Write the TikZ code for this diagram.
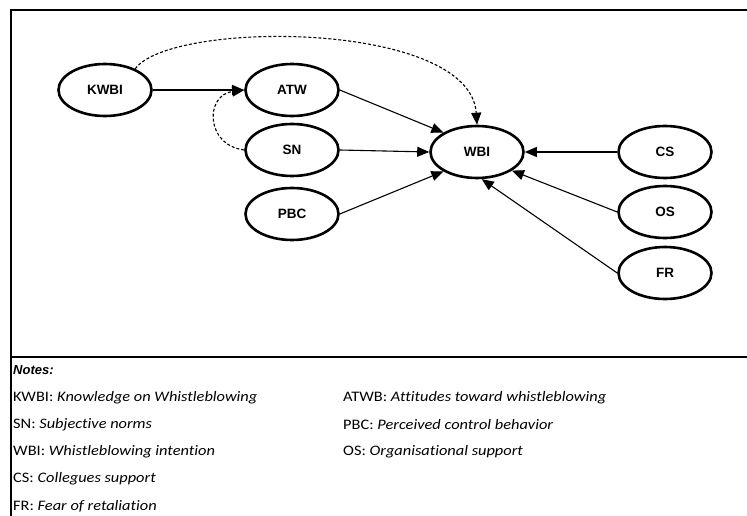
\documentclass[tikz,border=0pt]{standalone}
\usepackage{fontspec}
\setmainfont{Liberation Sans}
\newfontfamily\notefont[FakeStretch=1.13,Ligatures=NoCommon]{Carlito}
\usetikzlibrary{shapes.geometric,arrows.meta}
\begin{document}
\begin{tikzpicture}[x=1pt,y=-1pt,
  var/.style={ellipse,draw,line width=2.6pt,minimum width=93pt,minimum height=52pt,inner sep=0pt,
    font=\fontsize{13.5}{15}\selectfont\bfseries},
  arr/.style={line width=1.1pt,-{Triangle[length=12pt,width=10pt]}},
  dsh/.style={arr,dash pattern=on 3pt off 2pt},
  note/.style={anchor=west,inner sep=0pt,font=\notefont\fontsize{14.5}{16}\selectfont},
  frame/.style={line width=2.5pt}]
\useasboundingbox (0,0) rectangle (747,516);
% frame
\draw[frame] (747,10) -- (11,10) -- (11,516);
\draw[frame] (11,357) -- (747,357);
% variables
\node[var] (k) at (105,90) {KWBI};
\node[var] (a) at (292,90) {ATW};
\node[var] (s) at (292,150) {SN};
\node[var] (p) at (292,214) {PBC};
\node[var] (w) at (477,152) {WBI};
\node[var] (c) at (665,152) {CS};
\node[var] (o) at (665,212) {OS};
\node[var] (f) at (665,273) {FR};
% connectors
\draw[arr] (k.east) -- (a.west);
\draw[dsh] (k.35) .. controls (170,20) and (470,20) .. (w.north);
\draw[dsh] (s.west) .. controls (205,145) and (205,95) .. (a.west);
\draw[arr] (a.east) -- (w.150);
\draw[arr] (s.east) -- (w.west);
\draw[arr] (p.east) -- (w.210);
\draw[arr] (c.west) -- (w.east);
\draw[arr] (o.west) -- (w.-28);
\draw[arr] (f.west) -- (w.-80);
% notes
\node[anchor=west,inner sep=0pt,font=\fontsize{13}{15}\selectfont\bfseries\itshape] (nt) at (13,370) {Notes:};
\node[note] (n1) at (13,398) {KWBI: \textit{Knowledge on Whistleblowing}};
\node[note] (n2) at (13,425) {SN: \textit{Subjective norms}};
\node[note] (n3) at (13,452) {WBI: \textit{Whistleblowing intention}};
\node[note] (n4) at (13,479) {CS: \textit{Collegues support}};
\node[note] (n5) at (13,506) {FR: \textit{Fear of retaliation}};
\node[note] (n6) at (343,398) {ATWB: \textit{Attitudes toward whistleblowing}};
\node[note] (n7) at (343,425) {PBC: \textit{Perceived control behavior}};
\node[note] (n8) at (343,452) {OS: \textit{Organisational support}};
\end{tikzpicture}
\end{document}
